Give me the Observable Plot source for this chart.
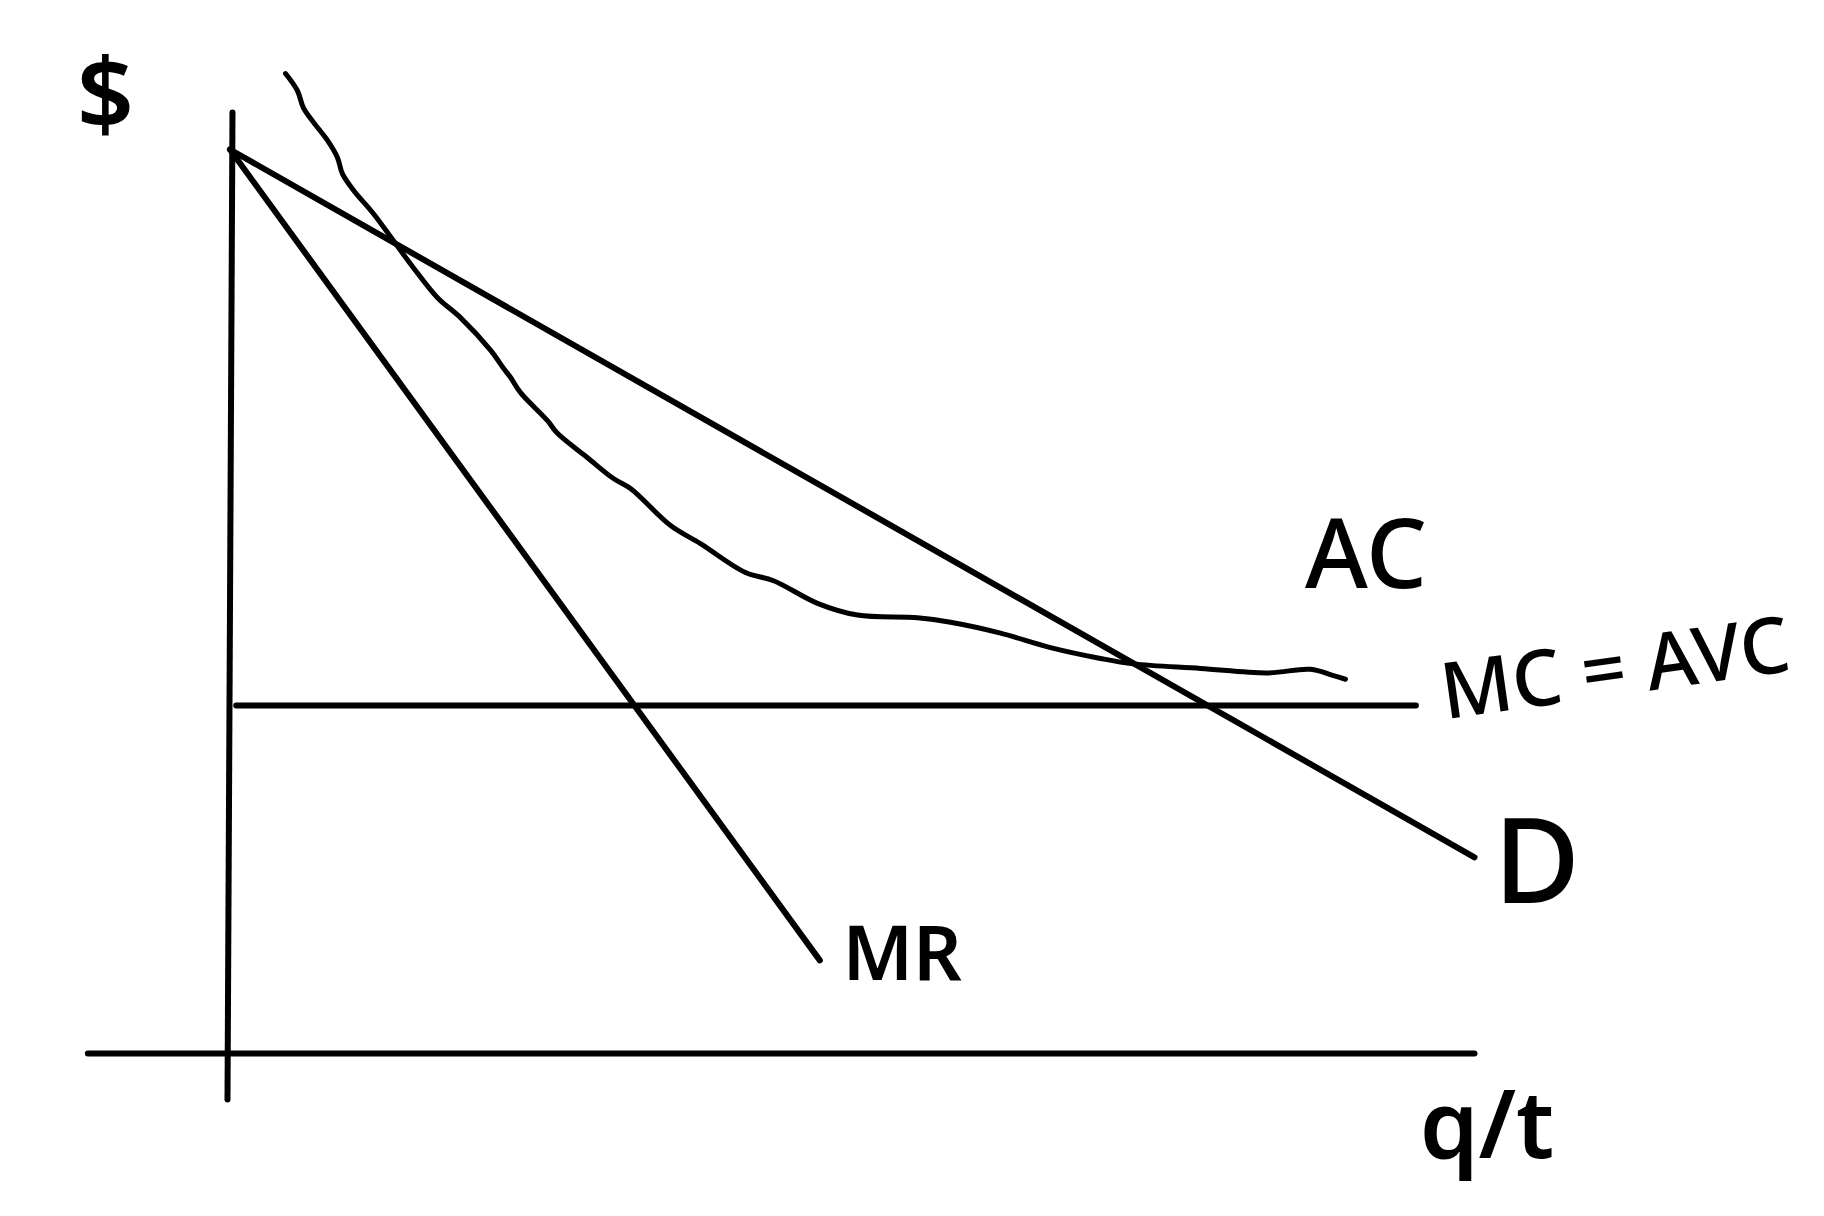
<!DOCTYPE html>
<html><head><meta charset="utf-8">
<script src="https://cdn.jsdelivr.net/npm/d3@7"></script>
<script src="https://cdn.jsdelivr.net/npm/@observablehq/plot@0.6"></script>
<style>body{margin:0;background:#fff}</style>
</head><body><div id="chart"></div>
<script>
// Quantity (q) and price ($) values
const priceAxisQ = [0.04, 0.0];
const priceAxisP = [10.41, -0.51];
const qtyAxisQ = [-1.12, 10.0];
const qtyAxisP = [0, 0];
const demandQ = [0.02, 10.0];
const demandP = [10.0, 2.17];
const mrQ = [0.02, 4.75];
const mrP = [10.0, 1.03];
const mcQ = [0.07, 9.53];
const mcP = [3.85, 3.85];
const acQ = [0.465,0.561,0.609,0.690,0.802,0.882,0.922,1.010,1.171,1.331,1.492,1.684,1.868,2.109,2.213,2.269,2.350,2.566,2.646,2.887,3.095,3.232,3.553,3.793,4.154,4.379,4.731,5.052,5.533,5.798,6.199,6.600,7.001,7.265,7.803,8.340,8.685,8.869,8.965];
const acP = [10.84,10.65,10.46,10.30,10.10,9.91,9.73,9.55,9.29,8.99,8.69,8.36,8.14,7.78,7.58,7.48,7.31,7.00,6.86,6.59,6.36,6.25,5.84,5.64,5.32,5.23,4.98,4.85,4.82,4.77,4.65,4.49,4.37,4.31,4.26,4.21,4.25,4.18,4.14];
const labelText = ["$", "AC", "MC = AVC", "D", "MR", "q/t"];
const labelQ = [-0.98, 9.13, 11.13, 10.50, 5.41, 10.10];
const labelP = [10.58, 5.49, 4.24, 2.08, 1.08, -0.82];

const pts = (qs, ps) => qs.map((q, i) => ({q, p: ps[i]}));
const labels = labelText.map((t, i) => ({t, q: labelQ[i], p: labelP[i]}));
const font = "Noto Sans";
const lineStyle = {x: "q", y: "p", stroke: "#000", strokeWidth: 6, strokeLinecap: "round"};

const chart = Plot.plot({
  width: 1824,
  height: 1216,
  margin: 0,
  style: {background: "#fff"},
  x: {domain: [0, 10], range: [227, 1474], axis: null},
  y: {domain: [0, 10], range: [1053, 149], axis: null},
  marks: [
    Plot.line(pts(priceAxisQ, priceAxisP), lineStyle),
    Plot.line(pts(qtyAxisQ, qtyAxisP), lineStyle),
    Plot.line(pts(demandQ, demandP), lineStyle),
    Plot.line(pts(mrQ, mrP), lineStyle),
    Plot.line(pts(mcQ, mcP), lineStyle),
    Plot.line(pts(acQ, acP), {x: "q", y: "p", stroke: "#000", strokeWidth: 5, strokeLinecap: "round", strokeLinejoin: "round", curve: "catmull-rom"}),
    Plot.text(labels.filter(d => d.t === "$"), {x: "q", y: "p", text: "t", fontSize: 100, fontFamily: font, fontWeight: 600, fill: "#000"}),
    Plot.text(labels.filter(d => d.t === "AC"), {x: "q", y: "p", text: "t", fontSize: 96, fontFamily: font, fontWeight: 500, fill: "#000"}),
    Plot.text(labels.filter(d => d.t === "MC = AVC"), {x: "q", y: "p", text: "t", fontSize: 78, fontFamily: font, fontWeight: 500, fill: "#000", rotate: -8}),
    Plot.text(labels.filter(d => d.t === "D"), {x: "q", y: "p", text: "t", fontSize: 118, fontFamily: font, fontWeight: 500, fill: "#000"}),
    Plot.text(labels.filter(d => d.t === "MR"), {x: "q", y: "p", text: "t", fontSize: 76, fontFamily: font, fontWeight: 600, fill: "#000"}),
    Plot.text(labels.filter(d => d.t === "q/t"), {x: "q", y: "p", text: "t", fontSize: 94, fontFamily: font, fontWeight: 600, fill: "#000"})
  ]
});
document.getElementById("chart").appendChild(chart);
</script>
</body></html>
